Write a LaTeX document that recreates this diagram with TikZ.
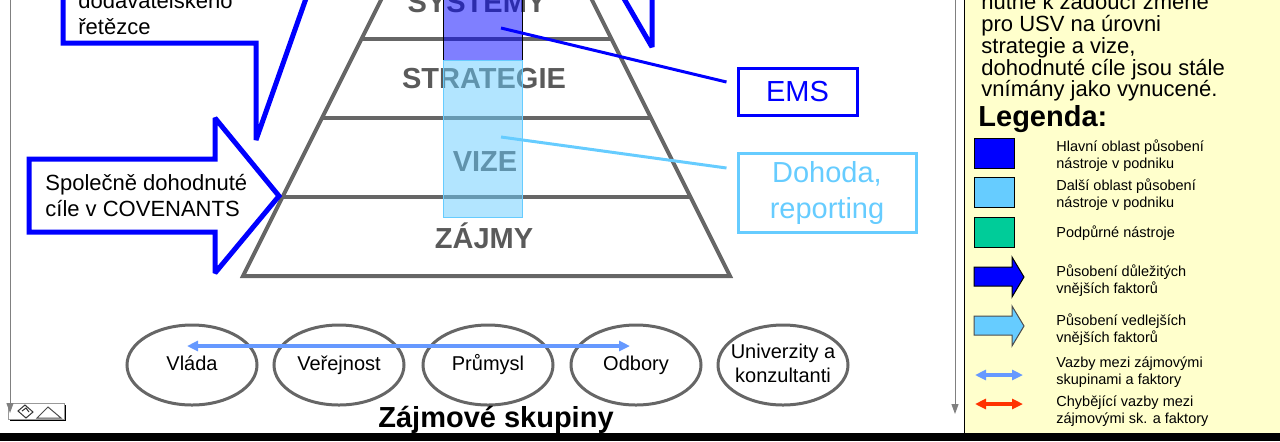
\documentclass[tikz,border=0pt]{standalone}
\usepackage{fontspec}
\setmainfont{Liberation Sans}
\usepackage{tikz}
\usetikzlibrary{shapes.geometric,calc,arrows.meta}
\definecolor{linkblue}{HTML}{6699FF}
\definecolor{skyblue}{HTML}{66CCFF}
\definecolor{supportgreen}{HTML}{00CC99}
\definecolor{legendbg}{HTML}{FFFFCC}
\definecolor{missred}{HTML}{FF3300}
\definecolor{layergray}{HTML}{666666}
\definecolor{labelgray}{HTML}{5A5A5A}
\newcommand{\fsize}[2]{\fontsize{#1}{#2}\selectfont}

\begin{document}
\begin{tikzpicture}[x=0.5pt, y=-0.5pt,
    layer/.style={line width=2pt, draw=layergray, line join=miter},
    layername/.style={anchor=base, text=labelgray, font=\bfseries\fsize{14.5}{17}},
    bigarrow/.style={draw=blue, line width=2.5pt, fill=white, line join=miter, miter limit=2},
    arrowtext/.style={anchor=west, align=left, inner sep=0pt, font=\fsize{11}{13}},
    tool/.style={draw, line width=1.5pt, inner sep=0pt, align=center, font=\fsize{14.5}{18}},
    area/.style={inner sep=0pt, minimum width=39.5pt, line width=0.5pt},
    group/.style={ellipse, draw=layergray, line width=1.5pt, minimum width=65pt, minimum height=40pt, inner sep=0pt, text depth=2.1pt, align=center, font=\fsize{10}{12}},
    link/.style={{Triangle[length=5.5pt,width=5pt]}-{Triangle[length=5.5pt,width=5pt]}, line width=1.75pt, draw=#1},
    swatch/.style={draw=black, line width=0.5pt, minimum width=20pt, minimum height=15pt, inner sep=0pt},
    legtext/.style={anchor=west, align=left, inner sep=0pt, font=\fsize{7.25}{8.5}},
    ruler/.style={draw=black!50, line width=0.5pt, -{Triangle[length=5pt,width=3.5pt]}}]
        \useasboundingbox (0,0) rectangle (1280,441);
        \clip (0,0) rectangle (1280,441);

        % pyramid
        \coordinate (apex) at (486.5,-211);
        \coordinate (bl) at (243,276);
        \coordinate (br) at (730,276);
        \draw[layer] (bl) -- (br) -- (apex) -- cycle;
        \foreach \yy in {39,118,197}
            \draw[layer] ({243+(276-\yy)/2},\yy) -- ({730-(276-\yy)/2},\yy);

        % layer names
        \node[layername] (systemy) at (477,12) {SYSTÉMY};
        \node[layername] (strategie) at (484,88) {STRATEGIE};
        \node[layername] (vize) at (485,171) {VIZE};
        \node[layername] (zajmy) at (484,248) {ZÁJMY};

        % tool areas
        \node[area, draw=black, fill=blue, fill opacity=0.5, minimum height=32.5pt] (mainarea) at (482.5,27.5) {};
        \node[area, draw=skyblue, fill=skyblue, fill opacity=0.5, minimum height=78.5pt] (nextarea) at (482.5,138.5) {};

        % tools
        \node[tool, draw=blue, text=blue, minimum width=59.5pt, minimum height=23.5pt] (ems) at (797.5,91.5) {EMS};
        \node[tool, draw=skyblue, text=skyblue, minimum width=89pt, minimum height=39.5pt] (dohoda) at (827,192.5) {Dohoda,\\reporting};
        \draw[blue, line width=1.5pt] ($(mainarea.center)+(18.5,0.5)$) -- ($(ems.west)+(-10,-9.5)$);
        \draw[skyblue, line width=1.5pt] ($(nextarea.center)+(18.5,-1.5)$) -- ($(dohoda.west)+(-10,-24.5)$);

        % outside factors
        \draw[bigarrow] (63,-10) -- (63,43) -- (256,43) -- (256,140) -- (309,-10) -- cycle;
        \node[arrowtext] (supply) at (78,13.5) {dodavatelského\\řetězce};
        \draw[bigarrow] (29,159) -- (215,159) -- (215,118) -- (279,196) -- (215,273) -- (215,232) -- (29,232) -- cycle;
        \node[arrowtext] (covenants) at (45,195.5) {Společně dohodnuté\\cíle v COVENANTS};
        \draw[bigarrow, fill=none] (619,-10) -- (652,47) -- (652,-10);

        % interest groups
        \node[group] (vlada) at (192,365) {Vláda};
        \node[group] (verejnost) at (339,365) {Veřejnost};
        \node[group] (prumysl) at (488,365) {Průmysl};
        \node[group] (odbory) at (636,365) {Odbory};
        \node[group, inner xsep=-3.5pt] (univerzity) at (783,365) {Univerzity a\\konzultanti};
        \draw[link=linkblue] ($(vlada.center)+(-5,-19)$) -- ($(odbory.center)+(-6,-19)$);
        \node[anchor=base, font=\bfseries\fsize{14.5}{17}] (skupiny) at (496,427) {Zájmové skupiny};

        % rulers and icon
        \fill[black] (10,405) rectangle (66,421);
        \filldraw[fill=white, draw=black!40, line width=0.5pt] (8,403) rectangle (64,419);
        \draw[black!70, line width=0.5pt] (37,418) -- (48,407) -- (61,418) -- cycle;
        \draw[black!80, line width=0.5pt] (18,411) -- (25,405) -- (33,412) -- (26,418) -- cycle (22,411) -- (26,408) -- (29,412);
        \draw[ruler] (10,0) -- (10,413);
        \draw[ruler] (955,0) -- (955,414);

        % legend panel
        \fill[legendbg] (965,0) rectangle (1280,433);
        \draw[black, line width=0.75pt] (964.5,0) -- (964.5,433);
        \node[anchor=west, align=left, inner sep=0pt, font=\fsize{11}{10.85}] (note) at (981,47.5)
            {nutné k žádoucí změně\\pro USV na úrovni\\strategie a vize,\\dohodnuté cíle jsou stále\\vnímány jako vynucené.};
        \node[anchor=base west, inner sep=0pt, font=\bfseries\fsize{14.5}{17}] (legenda) at (978,126) {Legenda:};

        \node[swatch, fill=blue] (sw1) at (994,153) {};
        \node[swatch, fill=skyblue] (sw2) at (994,192.5) {};
        \node[swatch, fill=supportgreen] (sw3) at (994,232) {};
        \draw[black, line width=0.5pt, fill=blue] (974,267) -- (1012,267) -- (1012,257) -- (1024,277) -- (1012,297) -- (1012,286) -- (974,286) -- cycle;
        \draw[black!70, line width=0.5pt, fill=skyblue] (974,316) -- (1012,316) -- (1012,306) -- (1024,326) -- (1012,346) -- (1012,335) -- (974,335) -- cycle;
        \draw[link=linkblue] (975,375) -- (1023,375);
        \draw[link=missred] (975,404) -- (1023,404);

        \node[legtext] (lt1) at (1056,155.5) {Hlavní oblast působení\\nástroje v podniku};
        \node[legtext] (lt2) at (1056,194.5) {Další oblast působení\\nástroje v podniku};
        \node[legtext] (lt3) at (1056,233) {Podpůrné nástroje};
        \node[legtext] (lt4) at (1056,281) {Působení důležitých\\vnějších faktorů};
        \node[legtext] (lt5) at (1056,330) {Působení vedlejších\\vnějších faktorů};
        \node[legtext] (lt6) at (1056,372) {Vazby mezi zájmovými\\skupinami a faktory};
        \node[legtext] (lt7) at (1056,411) {Chybějící vazby mezi\\zájmovými sk. a faktory};

        % bottom band
        \fill[black] (0,433) rectangle (1280,441);
\end{tikzpicture}
\end{document}
